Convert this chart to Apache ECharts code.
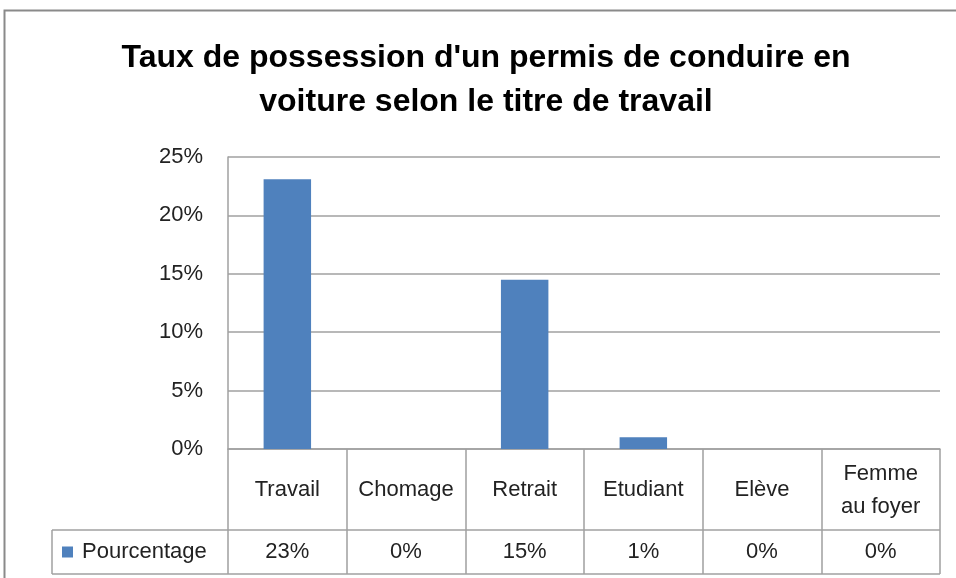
<!DOCTYPE html>
<html>
<head>
<meta charset="utf-8">
<script src="https://cdn.jsdelivr.net/npm/echarts@6/dist/echarts.min.js"></script>
<style>
  html, body { margin: 0; padding: 0; background: #fff; }
  #chart { width: 956px; height: 578px; }
</style>
</head>
<body>
<div id="chart"></div>
<script>
// Driving-licence ownership by work status
const categories = ['Travail', 'Chomage', 'Retrait', 'Etudiant', 'Elève', 'Femme\nau foyer'];
const pourcentage = [23.1, 0, 14.5, 1.0, 0, 0];
const yTicks = [0, 5, 10, 15, 20, 25];
const seriesName = 'Pourcentage';
const titleText = "Taux de possession d'un permis de conduire en\nvoiture selon le titre de travail";

const FONT = '"Liberation Sans", Arial, sans-serif';
const LINE = '#a0a0a0';
const TEXT = '#222';
const FS = 22;

const chart = echarts.init(document.getElementById('chart'), null, { renderer: 'canvas' });

const gridLeft = 228, gridRight = 956 - 940, gridTop = 157, gridBottom = 578 - 449;

chart.setOption({
  animation: false,
  backgroundColor: '#fff',
  title: {
    text: titleText,
    left: 481,
    textAlign: 'center',
    top: 31,
    textStyle: { fontFamily: FONT, fontWeight: 'bold', fontSize: 32, lineHeight: 44, color: '#000' }
  },
  legend: {
    left: 57,
    top: 536,
    icon: 'rect',
    itemWidth: 11,
    itemHeight: 11,
    data: [seriesName],
    textStyle: { fontFamily: FONT, fontSize: FS, color: TEXT, padding: [0, 0, 0, 4] }
  },
  grid: { left: gridLeft, right: gridRight, top: gridTop, bottom: gridBottom, containLabel: false },
  xAxis: [
    {
      type: 'category',
      data: categories,
      position: 'bottom',
      axisLine: { show: true, lineStyle: { color: LINE, width: 1.5 } },
      axisTick: { show: true, length: 125, interval: 0, lineStyle: { color: LINE, width: 1.5 } },
      axisLabel: {
        interval: 0,
        margin: 41,
        verticalAlign: 'middle',
        fontFamily: FONT, fontSize: FS, lineHeight: 33, color: TEXT
      }
    },
    {
      // value row of the data table
      type: 'category',
      data: categories,
      position: 'bottom',
      offset: 81,
      axisLine: { show: false },
      axisTick: { show: false },
      axisLabel: {
        interval: 0,
        margin: 22,
        verticalAlign: 'middle',
        fontFamily: FONT, fontSize: FS, color: TEXT,
        formatter: (v, i) => Math.round(pourcentage[i]) + '%'
      }
    }
  ],
  yAxis: {
    type: 'value',
    min: yTicks[0],
    max: yTicks[yTicks.length - 1],
    interval: yTicks[1] - yTicks[0],
    axisLine: { show: true, lineStyle: { color: LINE, width: 1.5 } },
    axisTick: { show: false },
    splitLine: { show: true, lineStyle: { color: LINE, width: 1.5 } },
    axisLabel: {
      margin: 25,
      fontFamily: FONT, fontSize: FS, color: TEXT,
      formatter: v => v + '%'
    }
  },
  series: [
    {
      name: seriesName,
      type: 'bar',
      xAxisIndex: 0,
      data: pourcentage,
      barWidth: '40%',
      itemStyle: { color: '#4f81bd' }
    }
  ],
  graphic: [
    // outer chart frame
    { type: 'rect', shape: { x: 4.5, y: 10.5, width: 1000, height: 700 },
      style: { fill: null, stroke: '#8a8a8a', lineWidth: 2 }, silent: true },
    // data-table rules
    { type: 'line', shape: { x1: 52, y1: 530, x2: 940, y2: 530 },
      style: { stroke: LINE, lineWidth: 1.5 }, silent: true },
    { type: 'line', shape: { x1: 52, y1: 574, x2: 940, y2: 574 },
      style: { stroke: LINE, lineWidth: 1.5 }, silent: true },
    { type: 'line', shape: { x1: 52, y1: 530, x2: 52, y2: 574 },
      style: { stroke: LINE, lineWidth: 1.5 }, silent: true }
  ]
});
</script>
</body>
</html>
